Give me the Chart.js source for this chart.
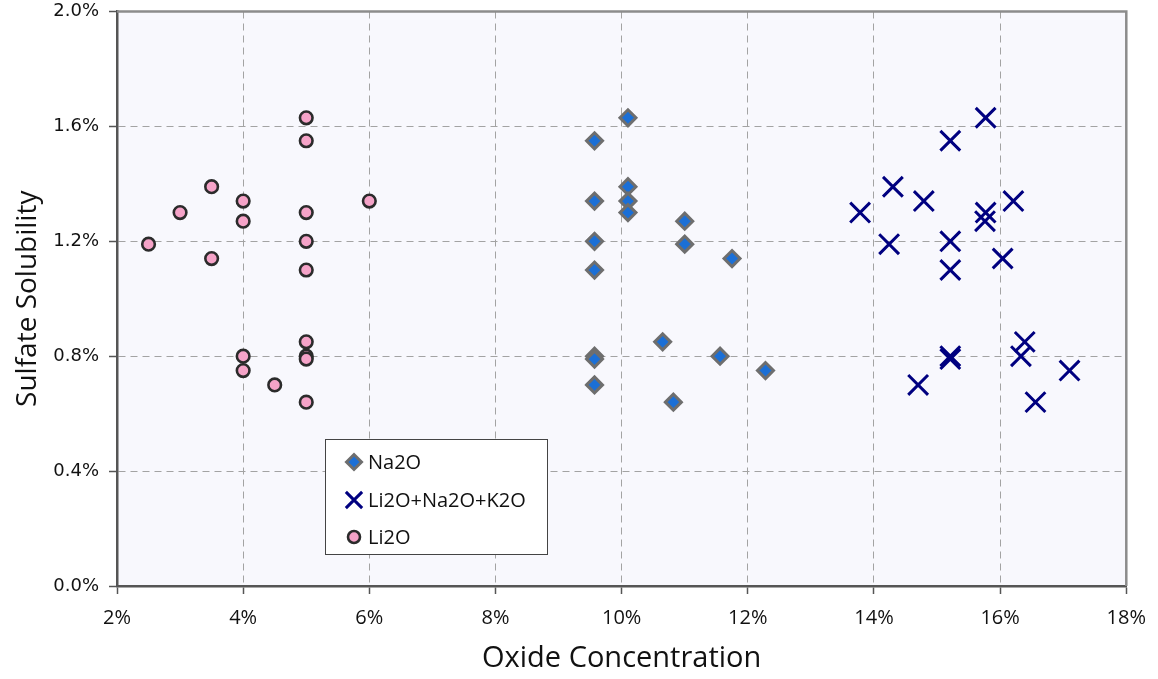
<!DOCTYPE html>
<html>
<head>
<meta charset="utf-8">
<title>Sulfate Solubility vs Oxide Concentration</title>
<script src="https://cdn.jsdelivr.net/npm/chart.js@4.4.1/dist/chart.umd.min.js"></script>
<style>
  html, body { margin: 0; padding: 0; background: #fff; }
  #wrap { width: 1158px; height: 679px; }
</style>
</head>
<body>
<div id="wrap"><canvas id="solChart" width="1158" height="679"></canvas></div>
<script>
// series values, in percent
const seriesNames = ['Na2O', 'Li2O+Na2O+K2O', 'Li2O'];

const na2oX = [10.1, 9.57, 10.1, 9.57, 10.1, 10.1, 11.0, 9.57, 11.0, 11.75, 9.57, 10.65, 9.57, 9.57, 11.56, 12.28, 9.57, 10.82];
const na2oY = [1.63, 1.55, 1.39, 1.34, 1.34, 1.30, 1.27, 1.20, 1.19, 1.14, 1.10, 0.85, 0.80, 0.79, 0.80, 0.75, 0.70, 0.64];

const mixX = [15.77, 15.21, 14.3, 14.79, 16.21, 13.78, 15.77, 15.76, 14.24, 15.21, 16.04, 15.21, 16.39, 16.33, 15.21, 15.21, 17.1, 14.7, 16.56];
const mixY = [1.63, 1.55, 1.39, 1.34, 1.34, 1.30, 1.30, 1.27, 1.19, 1.20, 1.14, 1.10, 0.85, 0.80, 0.80, 0.79, 0.75, 0.70, 0.64];

const li2oX = [5, 5, 3.5, 4, 6, 3, 5, 4, 2.5, 5, 3.5, 5, 5, 4, 5, 5, 4, 4.5, 5];
const li2oY = [1.63, 1.55, 1.39, 1.34, 1.34, 1.30, 1.30, 1.27, 1.19, 1.20, 1.14, 1.10, 0.85, 0.80, 0.80, 0.79, 0.75, 0.70, 0.64];

// axis ranges / ticks
const xMin = 2, xMax = 18, xStep = 2;
const yMin = 0, yMax = 2.0, yStep = 0.4;

const toPoints = (xs, ys) => xs.map((x, i) => ({ x: x, y: ys[i] }));

// plot area background + grey frame on top/right
const plotFrame = {
    id: 'plotFrame',
    beforeDraw(chart) {
        const { ctx, chartArea: a } = chart;
        ctx.save();
        ctx.fillStyle = '#f8f8fd';
        ctx.fillRect(a.left, a.top, a.right - a.left, a.bottom - a.top);
        ctx.restore();
    },
    beforeDatasetsDraw(chart) {
        const { ctx, chartArea: a } = chart;
        ctx.save();
        ctx.strokeStyle = '#8c8c8c';
        ctx.lineWidth = 2.5;
        ctx.beginPath();
        ctx.moveTo(a.left, a.top);
        ctx.lineTo(a.right, a.top);
        ctx.lineTo(a.right, a.bottom);
        ctx.stroke();
        ctx.restore();
    }
};

// boxed legend sitting inside the plot
const boxLegend = {
    id: 'boxLegend',
    afterDraw(chart) {
        const ctx = chart.ctx;
        const bx = 325.5, by = 439.5, bw = 222, bh = 115;
        const rows = [462, 500, 537];
        ctx.save();
        ctx.fillStyle = '#ffffff';
        ctx.fillRect(bx, by, bw, bh);
        ctx.strokeStyle = '#444';
        ctx.lineWidth = 1;
        ctx.strokeRect(bx, by, bw, bh);
        chart.data.datasets.forEach((ds, i) => {
            const y = rows[i];
            ctx.save();
            ctx.fillStyle = ds.pointBackgroundColor;
            ctx.strokeStyle = ds.pointBorderColor;
            ctx.lineWidth = ds.pointBorderWidth;
            Chart.helpers.drawPoint(ctx, {
                pointStyle: ds.pointStyle,
                radius: ds.legendRadius,
                rotation: 0,
                borderWidth: ds.pointBorderWidth
            }, 354, y);
            ctx.restore();
            ctx.fillStyle = '#111';
            ctx.font = '20px "Open Sans"';
            ctx.textBaseline = 'middle';
            ctx.textAlign = 'left';
            ctx.fillText(ds.label, 368, y + 1);
        });
        ctx.restore();
    }
};

new Chart(document.getElementById('solChart').getContext('2d'), {
    type: 'scatter',
    data: {
        datasets: [
            {
                label: seriesNames[0],
                data: toPoints(na2oX, na2oY),
                pointStyle: 'rectRot',
                pointRadius: 8, legendRadius: 7.5,
                pointBackgroundColor: '#1b6fd6', pointBorderColor: '#6e6e6e',
                pointBorderWidth: 3
            },
            {
                label: seriesNames[1],
                data: toPoints(mixX, mixY),
                pointStyle: 'crossRot',
                pointRadius: 14, legendRadius: 11.5,
                pointBackgroundColor: '#000080', pointBorderColor: '#000080',
                pointBorderWidth: 3
            },
            {
                label: seriesNames[2],
                data: toPoints(li2oX, li2oY),
                pointStyle: 'circle',
                pointRadius: 6.3, legendRadius: 6,
                pointBackgroundColor: '#f5a3c8', pointBorderColor: '#2b2b2b',
                pointBorderWidth: 2.6
            }
        ]
    },
    options: {
        responsive: false,
        animation: false,
        // big X markers would otherwise push the plot down (autoPadding)
        layout: { autoPadding: false, padding: { top: 11.5, right: 31, bottom: 0, left: 0 } },
        plugins: {
            legend: { display: false },
            tooltip: { enabled: false }
        },
        scales: {
            x: {
                type: 'linear',
                min: xMin, max: xMax,
                afterFit: s => { s.height = 93; },
                ticks: {
                    stepSize: xStep,
                    padding: 12,
                    color: '#111',
                    font: { family: 'Open Sans', size: 20 },
                    callback: v => v + '%'
                },
                grid: {
                    color: '#a3a3a3', lineWidth: 1,
                    tickLength: 8, tickColor: '#555', tickWidth: 1.5, tickBorderDash: []
                },
                border: { display: true, color: '#555', width: 2.5, dash: [7, 5] },
                title: {
                    display: true,
                    text: 'Oxide Concentration',
                    color: '#111',
                    font: { family: 'Open Sans', size: 29, lineHeight: 1.2 },
                    padding: { top: 0, bottom: 3 }
                }
            },
            y: {
                min: yMin, max: yMax,
                // fixed gutter; drop the label overhang so the plot starts near the top edge
                afterFit: s => { s.width = 117; s.paddingTop = 0; s.paddingBottom = 0; },
                ticks: {
                    stepSize: yStep,
                    padding: 10,
                    color: '#111',
                    font: { family: 'DejaVu Sans', size: 18 },
                    callback: v => v.toFixed(1) + '%'
                },
                grid: {
                    color: '#a3a3a3', lineWidth: 1,
                    tickLength: 8, tickColor: '#555', tickWidth: 1.5, tickBorderDash: []
                },
                border: { display: true, color: '#555', width: 2.5, dash: [7, 5] },
                title: {
                    display: true,
                    text: 'Sulfate Solubility',
                    color: '#111',
                    font: { family: 'Open Sans', size: 28, lineHeight: 1.2 },
                    padding: { top: 11, bottom: 0 }
                }
            }
        }
    },
    plugins: [plotFrame, boxLegend]
});
</script>
</body>
</html>
